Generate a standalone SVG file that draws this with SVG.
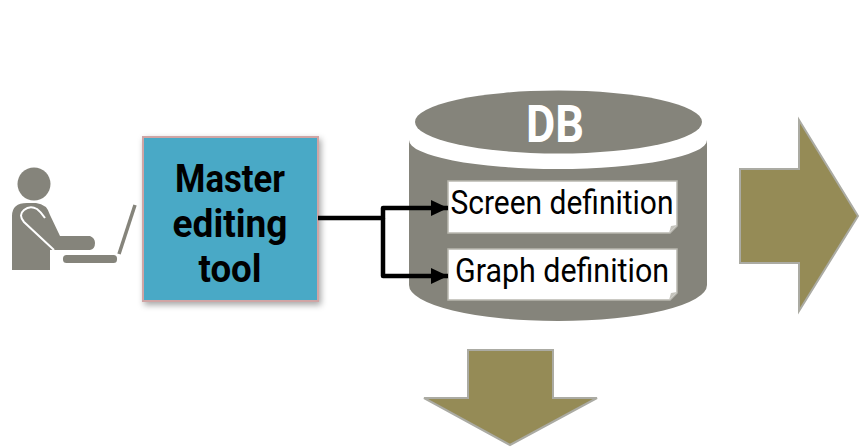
<svg xmlns="http://www.w3.org/2000/svg" width="865" height="448" viewBox="0 0 865 448">
<style>
text{font-family:Roboto,"Noto Sans","Liberation Sans",sans-serif;text-anchor:middle}
.big{font-size:38px;font-weight:700;fill:#000}
.def{font-size:34px;fill:#000}
.db{fill:#85847B}
.note{fill:#fff;stroke:#B9B8B0;stroke-width:1.5}
.fold{fill:#C4C3BC}
.flow{fill:#958B56;stroke:#ABABA3;stroke-width:2}
.conn{fill:none;stroke:#000;stroke-width:4.500;stroke-linejoin:round}
</style>
<defs>
<marker id="ah" markerUnits="userSpaceOnUse" markerWidth="18" markerHeight="16" refX="17" refY="8" orient="auto"><path d="M0 0L17 8L0 16Z" fill="#000"/></marker>
<filter id="sh" x="-10%" y="-10%" width="125%" height="125%"><feDropShadow dx="2" dy="3" stdDeviation="3" flood-color="#000" flood-opacity="0.35"/></filter>
</defs>
<g id="user">
<circle class="db" cx="34" cy="184" r="16.5"/>
<path class="db" d="M12 270V216Q12 203 27 203H36Q47 204 50 215L60 236H90Q95 238 95 243Q95 249 90 250H50V270Z"/>
<path d="M54 250L24 222Q18 215 24 210Q30 205 37 209Q41 212 45 218" fill="none" stroke="#fff" stroke-width="2"/>
<rect class="db" x="63" y="255" width="54" height="8" rx="3.500"/>
<path d="M135 205L119 254" fill="none" stroke="#85847B" stroke-width="3.500"/>
</g>
<g id="master-editing-tool">
<rect x="143" y="137" width="175" height="164" fill="#4AA9C6" stroke="#D0A5A5" stroke-width="2" filter="url(#sh)"/>
<text class="big" x="230" y="192" textLength="110" lengthAdjust="spacingAndGlyphs">Master</text>
<text class="big" x="230" y="237" textLength="115" lengthAdjust="spacingAndGlyphs">editing</text>
<text class="big" x="230" y="282" textLength="63" lengthAdjust="spacingAndGlyphs">tool</text>
</g>
<g id="db">
<path class="db" d="M409 140A149 29 0 0 0 707 140V285A149 36 0 0 1 409 285Z"/>
<ellipse class="db" cx="558.500" cy="122" rx="143.500" ry="31.500"/>
<text x="555" y="142" font-size="51" font-weight="700" fill="#fff" textLength="58" lengthAdjust="spacingAndGlyphs">DB</text>
</g>
<g id="screen-definition">
<path class="note" d="M448 181H677V226L670 233H448Z"/>
<path class="fold" d="M669 233L671 226L677 225Z"/>
<text class="def" x="562" y="214" textLength="223" lengthAdjust="spacingAndGlyphs">Screen definition</text>
</g>
<g id="graph-definition">
<path class="note" d="M448 249H677V293L670 300H448Z"/>
<path class="fold" d="M669 300L671 293L677 292Z"/>
<text class="def" x="562" y="282" textLength="214" lengthAdjust="spacingAndGlyphs">Graph definition</text>
</g>
<g id="connectors">
<path class="conn" d="M318 218H383V208H448" marker-end="url(#ah)"/>
<path class="conn" d="M383 218V276H448" marker-end="url(#ah)"/>
</g>
<g id="arrow-right"><path class="flow" d="M740 169H799V120L858 216L799 311V263H740Z"/></g>
<g id="arrow-down"><path class="flow" d="M468 350H553V398H597L510 445L424 398H468Z"/></g>
</svg>
